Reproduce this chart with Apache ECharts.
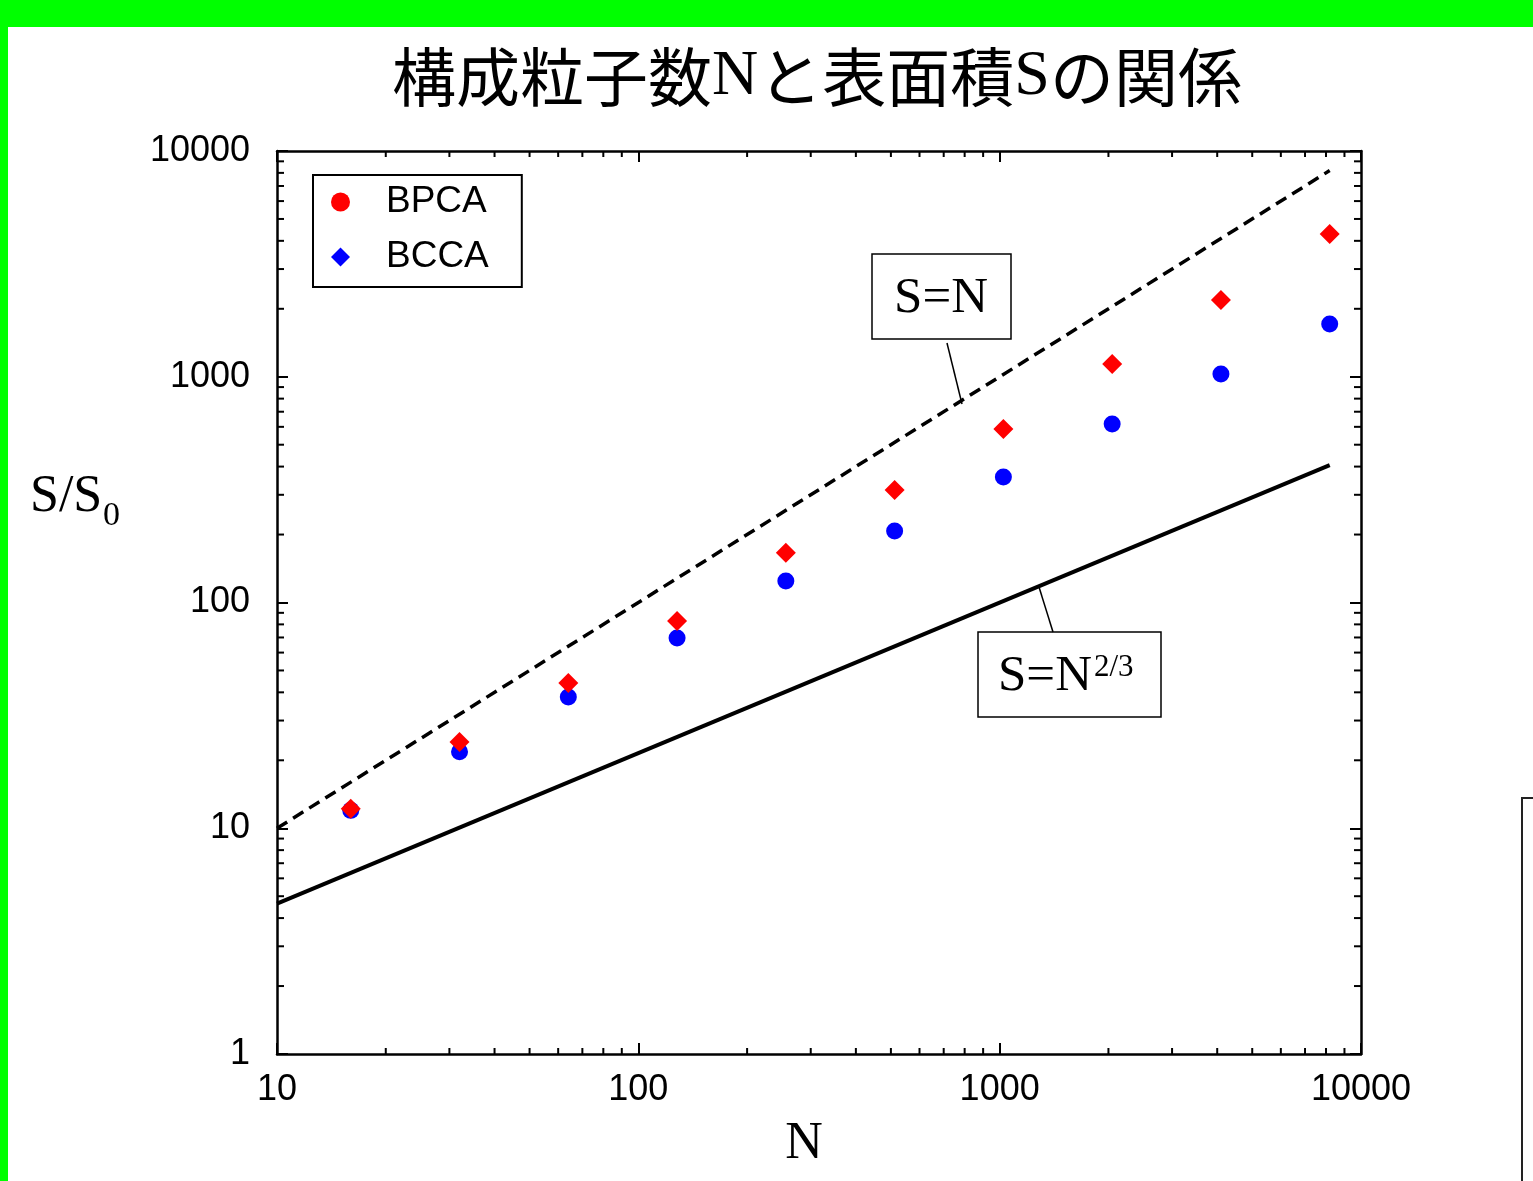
<!DOCTYPE html>
<html>
<head>
<meta charset="utf-8">
<script src="https://cdn.jsdelivr.net/npm/echarts@6.0.0/dist/echarts.min.js"></script>
<style>
html,body{margin:0;padding:0;background:#fff;}
#chart{width:1533px;height:1181px;}
</style>
</head>
<body>
<div id="chart"></div>
<script>
// ---- data ----
const particleCounts = [16, 32, 64, 128, 256, 512, 1024, 2048, 4096, 8192];
const bpcaValues = [12.2, 24.1, 44, 82.8, 166, 315, 587, 1139, 2188, 4290];
const bccaValues = [12.0, 21.8, 38.1, 69.6, 124.5, 207.5, 360, 618, 1028, 1713];
const lineSeqN = [[10, 10], [8192, 8192]];            // S = N
const lineSeqN23 = [[10, 4.64], [8192, 406]];         // S = N^(2/3)
const xTickLabels = ['10', '100', '1000', '10000'];
const yTickLabels = ['1', '10', '100', '1000', '10000'];
const xMinorTicks = [20,30,40,50,60,70,80,90,200,300,400,500,600,700,800,900,2000,3000,4000,5000,6000,7000,8000,9000];
const yMinorTicks = [2,3,4,5,6,7,8,9,20,30,40,50,60,70,80,90,200,300,400,500,600,700,800,900,2000,3000,4000,5000,6000,7000,8000,9000];
const xMin = 10, xMax = 10000, yMin = 1, yMax = 10000;

const SANS = '"Liberation Sans", Arial, sans-serif';
const SERIF = '"Liberation Serif", "Times New Roman", serif';
const CJK = '"Noto Sans CJK JP", sans-serif';

const chart = echarts.init(document.getElementById('chart'), null, {renderer: 'canvas'});

function zip(xs, ys) { return xs.map((x, i) => [x, ys[i]]); }
function labelFmt(list) {
  return function (v) {
    const s = String(Math.round(v));
    return list.indexOf(s) >= 0 ? s : '';
  };
}

const axisLineStyle = {color: '#000', width: 2.5};
const majorTick = {show: true, inside: true, length: 11, lineStyle: {color: '#000', width: 2}};

const option = {
  backgroundColor: '#fff',
  animation: false,
  grid: {left: 277, top: 151, width: 1084, height: 903, containLabel: false},
  xAxis: [
    {type: 'log', logBase: 10, min: xMin, max: xMax, position: 'bottom',
     axisLine: {show: true, lineStyle: axisLineStyle}, axisTick: majorTick,
     axisLabel: {show: true, fontSize: 36, fontFamily: SANS, color: '#000', margin: 18,
                 showMinLabel: true, showMaxLabel: true, formatter: labelFmt(xTickLabels)},
     splitLine: {show: false}, minorTick: {show: false}},
    {type: 'log', logBase: 10, min: xMin, max: xMax, position: 'top',
     axisLine: {show: true, lineStyle: axisLineStyle}, axisTick: majorTick,
     axisLabel: {show: false}, splitLine: {show: false}}
  ],
  yAxis: [
    {type: 'log', logBase: 10, min: yMin, max: yMax, position: 'left',
     axisLine: {show: true, lineStyle: axisLineStyle}, axisTick: majorTick,
     axisLabel: {show: true, fontSize: 36, fontFamily: SANS, color: '#000', margin: 27,
                 lineHeight: 36, padding: [6, 0, 0, 0],
                 showMinLabel: true, showMaxLabel: true, formatter: labelFmt(yTickLabels)},
     splitLine: {show: false}},
    {type: 'log', logBase: 10, min: yMin, max: yMax, position: 'right',
     axisLine: {show: true, lineStyle: axisLineStyle}, axisTick: majorTick,
     axisLabel: {show: false}, splitLine: {show: false}}
  ],
  legend: {
    orient: 'vertical', left: 313, top: 175,
    padding: [7, 33, 10, 18], itemGap: 15, itemWidth: 19, itemHeight: 19,
    borderColor: '#000', borderWidth: 2, borderRadius: 0, backgroundColor: '#fff',
    data: [{name: 'BPCA', icon: 'circle'}, {name: 'BCCA', icon: 'diamond'}],
    itemStyle: {opacity: 1},
    textStyle: {fontSize: 37, fontFamily: SANS, color: '#000', padding: [0, 0, 0, 31], lineHeight: 40}
  },
  series: [
    {name: 'S=N', type: 'line', data: lineSeqN, showSymbol: false, symbol: 'none',
     lineStyle: {color: '#000', width: 3.5, type: [12, 7], opacity: 1}, silent: true, z: 2},
    {name: 'S=N^(2/3)', type: 'line', data: lineSeqN23, showSymbol: false, symbol: 'none',
     lineStyle: {color: '#000', width: 4, type: 'solid', opacity: 1}, silent: true, z: 2},
    {name: 'xMinor', type: 'custom', silent: true, clip: false, z: 3,
     data: xMinorTicks.map(v => [v, yMin]),
     renderItem: function (params, api) {
       const v = api.value(0);
       const b = api.coord([v, yMin]);
       const t = api.coord([v, yMax]);
       const st = {stroke: '#000', lineWidth: 2};
       return {type: 'group', children: [
         {type: 'line', shape: {x1: b[0], y1: b[1], x2: b[0], y2: b[1] - 6}, style: st},
         {type: 'line', shape: {x1: t[0], y1: t[1], x2: t[0], y2: t[1] + 6}, style: st}
       ]};
     }},
    {name: 'yMinor', type: 'custom', silent: true, clip: false, z: 3,
     data: yMinorTicks.map(v => [xMin, v]),
     renderItem: function (params, api) {
       const v = api.value(1);
       const l = api.coord([xMin, v]);
       const r = api.coord([xMax, v]);
       const st = {stroke: '#000', lineWidth: 2};
       return {type: 'group', children: [
         {type: 'line', shape: {x1: l[0], y1: l[1], x2: l[0] + 7, y2: l[1]}, style: st},
         {type: 'line', shape: {x1: r[0], y1: r[1], x2: r[0] - 7, y2: r[1]}, style: st}
       ]};
     }},
    {name: 'BCCA', type: 'scatter', data: zip(particleCounts, bccaValues),
     symbol: 'circle', symbolSize: 17, itemStyle: {color: '#0000ff', opacity: 1}, z: 4},
    {name: 'BPCA', type: 'scatter', data: zip(particleCounts, bpcaValues),
     symbol: 'diamond', symbolSize: 20, itemStyle: {color: '#ff0000', opacity: 1}, z: 5}
  ],
  graphic: [
    // green frame
    {type: 'rect', left: 0, top: 0, shape: {width: 1533, height: 27}, style: {fill: '#00ff00'}, z: 100},
    {type: 'rect', left: 0, top: 0, shape: {width: 8, height: 1181}, style: {fill: '#00ff00'}, z: 100},
    // partial frame at right
    {type: 'polyline', shape: {points: [[1522, 1181], [1522, 798], [1533, 798]]},
     style: {stroke: '#222', lineWidth: 2, fill: null}, z: 100},
    // title
    {type: 'text', x: 817, y: 77, z: 100,
     style: {text: '{j|構成粒子数}{r|N}{j|と表面積}{r|S}{j|の関係}',
             rich: {j: {fontFamily: CJK, fontSize: 64, lineHeight: 76}, r: {fontFamily: SERIF, fontSize: 64, lineHeight: 76}},
             align: 'center', verticalAlign: 'middle', fill: '#000'}},
    // axis names
    {type: 'text', x: 804, y: 1144, z: 100,
     style: {text: 'N', font: '52px ' + SERIF, fill: '#000', align: 'center', verticalAlign: 'middle'}},
    {type: 'text', x: 30, y: 497, z: 100,
     style: {text: 'S/S', font: '52px ' + SERIF, fill: '#000', align: 'left', verticalAlign: 'middle'}},
    {type: 'text', x: 103, y: 516, z: 100,
     style: {text: '0', font: '34px ' + SERIF, fill: '#000', align: 'left', verticalAlign: 'middle'}},
    // annotation S=N
    {type: 'rect', shape: {x: 872, y: 254, width: 139, height: 85}, style: {fill: '#fff', stroke: '#000', lineWidth: 1.5}, z: 100},
    {type: 'text', x: 941, y: 299, z: 101,
     style: {text: 'S=N', font: '51px ' + SERIF, fill: '#000', align: 'center', verticalAlign: 'middle'}},
    {type: 'line', shape: {x1: 947, y1: 343, x2: 962, y2: 404}, style: {stroke: '#000', lineWidth: 1.5}, z: 100},
    // annotation S=N^(2/3)
    {type: 'rect', shape: {x: 978, y: 632, width: 183, height: 85}, style: {fill: '#fff', stroke: '#000', lineWidth: 1.5}, z: 100},
    {type: 'text', x: 998, y: 677, z: 101,
     style: {text: 'S=N', font: '51px ' + SERIF, fill: '#000', align: 'left', verticalAlign: 'middle'}},
    {type: 'text', x: 1094, y: 668, z: 101,
     style: {text: '2/3', font: '31px ' + SERIF, fill: '#000', align: 'left', verticalAlign: 'middle'}},
    {type: 'line', shape: {x1: 1039, y1: 587, x2: 1053, y2: 632}, style: {stroke: '#000', lineWidth: 1.5}, z: 100}
  ]
};
chart.setOption(option);
</script>
</body>
</html>
